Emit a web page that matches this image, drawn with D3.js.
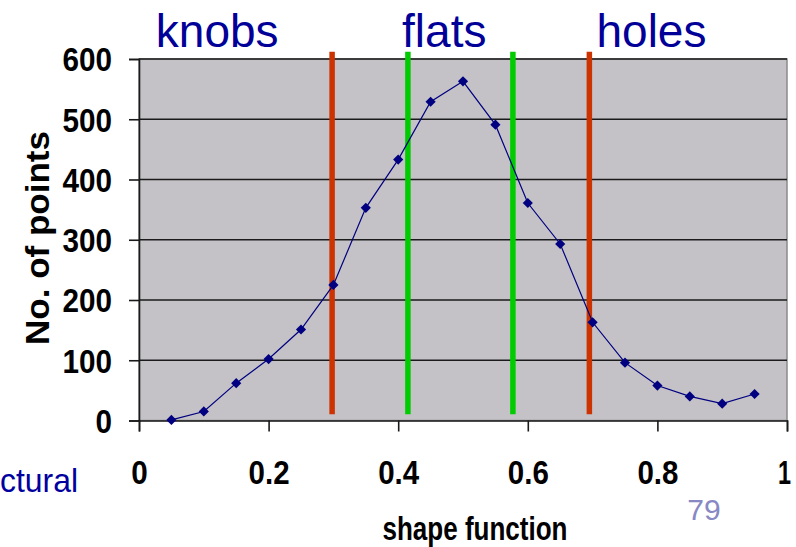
<!DOCTYPE html>
<html>
<head>
<meta charset="utf-8">
<script src="https://cdn.jsdelivr.net/npm/d3@7"></script>
<style>
  html, body { margin: 0; padding: 0; background: #ffffff; }
  svg { display: block; }
</style>
</head>
<body>
<svg id="chart" width="796" height="547"></svg>
<script>
// Histogram of shape-function values
const shapeValues = [0.05, 0.1, 0.15, 0.2, 0.25, 0.3, 0.35, 0.4, 0.45, 0.5,
                     0.55, 0.6, 0.65, 0.7, 0.75, 0.8, 0.85, 0.9, 0.95];
const pointCounts = [1, 15, 62, 102, 151, 225, 353, 433, 529, 563,
                     491, 361, 293, 163, 96, 58, 40, 28, 44];

const xTicks = [0, 0.2, 0.4, 0.6, 0.8, 1];
const xTickLabels = ["0", "0.2", "0.4", "0.6", "0.8", "1"];
const yTicks = [0, 100, 200, 300, 400, 500, 600];

// Class thresholds and the region names above the plot
const thresholds = [0.298, 0.415, 0.577, 0.695];
const thresholdKinds = ["outer", "inner", "inner", "outer"];
const regionNames = ["knobs", "flats", "holes"];
const regionStarts = [0.026, 0.406, 0.706];

const svg = d3.select("#chart");

const x = d3.scaleLinear().domain([0, 1]).range([139, 787]);
const y = d3.scaleLinear().domain([0, 600]).range([420.5, 59]);
const lineColor = d3.scaleOrdinal().domain(["outer", "inner"]).range(["#cc3300", "#00cc00"]);

// Narrow bold tick figures: squeeze each label to a fixed width per glyph
const narrowWidth = s => s.split("").reduce((w, c) => w + (c === "." ? 8 : c === "1" && s.length === 1 ? 13 : 16.5), 0);
const FONT = "'Liberation Sans', Arial, sans-serif";

// Plot area
svg.append("rect")
  .attr("x", x(0)).attr("y", y(600))
  .attr("width", x(1) - x(0)).attr("height", y(0) - y(600))
  .attr("fill", "#c4c2c6")
  .attr("stroke", "#8a8a8a").attr("stroke-width", 1.5);

// Horizontal gridlines
svg.append("g")
  .selectAll("line")
  .data(yTicks.filter(d => d > 0))
  .join("line")
  .attr("x1", x(0)).attr("x2", x(1))
  .attr("y1", d => y(d)).attr("y2", d => y(d))
  .attr("stroke", "#1a1a1a").attr("stroke-width", 1.6);

// Y axis
const yAxis = svg.append("g")
  .attr("transform", `translate(${x(0)},0)`)
  .call(d3.axisLeft(y).tickValues(yTicks).tickSize(10).tickPadding(17));
yAxis.select(".domain").attr("stroke", "#1a1a1a").attr("stroke-width", 1.6);
yAxis.selectAll(".tick line").attr("stroke", "#1a1a1a").attr("stroke-width", 1.6);
yAxis.selectAll(".tick text")
  .attr("font-family", FONT)
  .attr("font-weight", "bold")
  .attr("font-size", 34)
  .attr("fill", "#000")
  .attr("dy", "0.35em")
  .attr("textLength", d => narrowWidth(String(d)))
  .attr("lengthAdjust", "spacingAndGlyphs");

// X axis
const xAxis = svg.append("g")
  .attr("transform", `translate(0,${y(0)})`)
  .call(d3.axisBottom(x).tickValues(xTicks)
    .tickFormat((d, i) => xTickLabels[i]).tickSize(11).tickPadding(29));
xAxis.select(".domain").attr("stroke", "#1a1a1a").attr("stroke-width", 1.6);
xAxis.selectAll(".tick line").attr("stroke", "#1a1a1a").attr("stroke-width", 1.6);
xAxis.selectAll(".tick text")
  .attr("font-family", FONT)
  .attr("font-weight", "bold")
  .attr("font-size", 34)
  .attr("fill", "#000")
  .attr("dy", "0.7em")
  // keep the last label inside the page edge
  .attr("dx", (d, i) => i === xTicks.length - 1 ? -3 : 0)
  .attr("textLength", (d, i) => narrowWidth(xTickLabels[i]))
  .attr("lengthAdjust", "spacingAndGlyphs");

// Threshold lines
svg.append("g")
  .selectAll("line")
  .data(thresholds)
  .join("line")
  .attr("x1", d => x(d)).attr("x2", d => x(d))
  .attr("y1", y(612)).attr("y2", y(10.5))
  .attr("stroke", (d, i) => lineColor(thresholdKinds[i]))
  .attr("stroke-width", 5.5);

// Data series
const pts = shapeValues.map((v, i) => [v, pointCounts[i]]);
svg.append("path")
  .datum(pts)
  .attr("fill", "none")
  .attr("stroke", "#000080")
  .attr("stroke-width", 1.2)
  .attr("d", d3.line().x(d => x(d[0])).y(d => y(d[1])));

svg.append("g")
  .selectAll("path")
  .data(pts)
  .join("path")
  .attr("transform", d => `translate(${x(d[0])},${y(d[1])}) rotate(45)`)
  .attr("d", "M-3.6,-3.6H3.6V3.6H-3.6Z")
  .attr("fill", "#000080");

// Region names
svg.append("g")
  .selectAll("text")
  .data(regionNames)
  .join("text")
  .attr("x", (d, i) => x(regionStarts[i]))
  .attr("y", 47)
  .attr("font-family", FONT)
  .attr("font-size", 46)
  .attr("fill", "#000099")
  .text(d => d);

// Axis titles
svg.append("text")
  .attr("transform", `translate(49,238) rotate(-90)`)
  .attr("text-anchor", "middle")
  .attr("font-family", FONT)
  .attr("font-weight", "bold")
  .attr("font-size", 33)
  .attr("fill", "#000")
  .attr("textLength", 214).attr("lengthAdjust", "spacingAndGlyphs")
  .text("No. of points");

svg.append("text")
  .attr("x", 475).attr("y", 540)
  .attr("text-anchor", "middle")
  .attr("font-family", FONT)
  .attr("font-weight", "bold")
  .attr("font-size", 33)
  .attr("fill", "#000")
  .attr("textLength", 185).attr("lengthAdjust", "spacingAndGlyphs")
  .text("shape function");

// Slide leftovers: caption tail and page number
svg.append("text")
  .attr("x", 0).attr("y", 492)
  .attr("font-family", FONT)
  .attr("font-size", 33)
  .attr("fill", "#0000a0")
  .attr("textLength", 78).attr("lengthAdjust", "spacingAndGlyphs")
  .text("ctural");

svg.append("text")
  .attr("x", 704).attr("y", 520)
  .attr("text-anchor", "middle")
  .attr("font-family", FONT)
  .attr("font-size", 30)
  .attr("fill", "#8888c4")
  .text("79");
</script>
</body>
</html>
